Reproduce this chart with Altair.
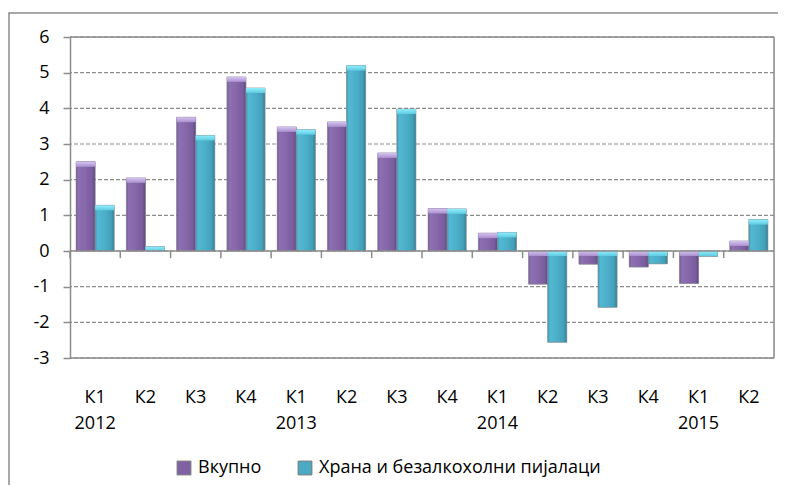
import altair as alt
import pandas as pd

quarters = ["К1", "К2", "К3", "К4", "К1", "К2", "К3", "К4", "К1", "К2", "К3", "К4", "К1", "К2"]
years = ["2012"] * 4 + ["2013"] * 4 + ["2014"] * 4 + ["2015"] * 2
series_names = ["Вкупно", "Храна и безалкохолни пијалаци"]
vkupno = [2.5, 2.05, 3.75, 4.88, 3.48, 3.62, 2.75, 1.19, 0.5, -0.93, -0.37, -0.45, -0.91, 0.28]
hrana = [1.28, 0.12, 3.24, 4.57, 3.4, 5.2, 3.98, 1.18, 0.52, -2.56, -1.58, -0.36, -0.15, 0.88]
y_ticks = [-3, -2, -1, 0, 1, 2, 3, 4, 5, 6]
y_min, y_max = -3, 6

cats = [f"{q} {y}" for q, y in zip(quarters, years)]
rows = []
for i, c in enumerate(cats):
    for s, vals in zip(series_names, [vkupno, hrana]):
        v = vals[i]
        top = max(v, 0.0)
        cap = min(0.14, abs(v))
        rows.append({"cat": c, "series": s, "value": v, "zero": 0.0, "top": top, "capbot": top - cap})
df = pd.DataFrame(rows)
ticks_df = pd.DataFrame({"cat": cats, "y0": [0.0] * len(cats), "y1": [-0.2] * len(cats)})
grid_df = pd.DataFrame({"v": y_ticks})
solid_df = pd.DataFrame({"v": [y_min, 0, y_max]})
side_df = pd.DataFrame({"ytop": [y_max], "ybot": [y_min]})
frame_df = pd.DataFrame({"k": [0]})

W, H = 704, 321
GRAY = "#8c8c8c"
PURPLE = "#7f62a1"
TEAL = "#4aaac4"

grad_p = {"gradient": "linear", "x1": 0, "y1": 0, "x2": 1, "y2": 0,
          "stops": [{"offset": 0, "color": "#735a96"}, {"offset": 0.12, "color": "#8d70b2"},
                    {"offset": 0.5, "color": "#8667a9"}, {"offset": 0.85, "color": "#785c9e"},
                    {"offset": 1, "color": "#5c467b"}]}
grad_t = {"gradient": "linear", "x1": 0, "y1": 0, "x2": 1, "y2": 0,
          "stops": [{"offset": 0, "color": "#3f98b0"}, {"offset": 0.12, "color": "#53b8d3"},
                    {"offset": 0.5, "color": "#4cafc9"}, {"offset": 0.85, "color": "#429fb8"},
                    {"offset": 1, "color": "#307e93"}]}
cap_p = {"gradient": "linear", "x1": 0, "y1": 0, "x2": 0, "y2": 1,
         "stops": [{"offset": 0, "color": "#d6c2f3"}, {"offset": 1, "color": "#a98fcc"}]}
cap_t = {"gradient": "linear", "x1": 0, "y1": 0, "x2": 0, "y2": 1,
         "stops": [{"offset": 0, "color": "#90effc"}, {"offset": 1, "color": "#5fcae0"}]}

is_p = alt.datum.series == "Вкупно"

x_axis = alt.Axis(title=None, domain=False, ticks=False, grid=False,
                  labelAngle=0, labelFontSize=18, labelPadding=30,
                  labelBaseline="top", labelLineHeight=26, labelColor="black",
                  labelFont="Open Sans", labelOverlap=False,
                  labelExpr="split(datum.value, ' ')[0] == 'К1' ? split(datum.value, ' ') : split(datum.value, ' ')[0]")
x_scale = alt.Scale(paddingInner=0, paddingOuter=0)
y_scale = alt.Scale(domain=[y_min, y_max], nice=False, zero=False)
y_axis = alt.Axis(title=None, values=y_ticks, grid=False,
                  domainColor=GRAY, domainWidth=1.5, tickColor=GRAY,
                  tickSize=7, tickWidth=1.5, labelFontSize=18, labelPadding=14,
                  labelColor="black", labelFont="Open Sans", labelOverlap=False,
                  labelExpr="'' + datum.value")


def X(**kw):
    return alt.X("cat:N", sort=cats, scale=x_scale, axis=x_axis, **kw)


def Y(field):
    return alt.Y(field, scale=y_scale, axis=y_axis)


xoff = alt.XOffset("series:N", sort=series_names, scale=alt.Scale(paddingOuter=0.32, paddingInner=0))

grid = alt.Chart(grid_df).mark_rule(color=GRAY, strokeWidth=1.2, strokeDash=[4, 2]).encode(
    y=Y("v:Q"))

base = alt.Chart(df)

bars_flat = base.mark_bar().encode(
    x=X(), xOffset=xoff,
    y=Y("value:Q"), y2="zero:Q",
    color=alt.Color("series:N", sort=series_names,
                    scale=alt.Scale(domain=series_names, range=[PURPLE, TEAL]),
                    legend=alt.Legend(title=None, orient="none", legendX=105, legendY=422,
                                      direction="horizontal", symbolType="square", symbolSize=190,
                                      symbolStrokeColor="#777777", symbolStrokeWidth=1,
                                      labelFontSize=18, labelFont="Open Sans", labelColor="black",
                                      labelLimit=0, columnPadding=34, labelOffset=5)),
)

bars_grad = base.mark_bar(stroke="#8a8a96", strokeWidth=1, strokeOpacity=0.7).encode(
    x=X(), xOffset=xoff,
    y=Y("value:Q"), y2="zero:Q",
    fill=alt.condition(is_p, alt.value(grad_p), alt.value(grad_t)),
)

caps = base.mark_bar().encode(
    x=X(), xOffset=xoff,
    y=Y("top:Q"), y2="capbot:Q",
    fill=alt.condition(is_p, alt.value(cap_p), alt.value(cap_t)),
)

solid_lines = alt.Chart(solid_df).mark_rule(color=GRAY, strokeWidth=1.5).encode(y=Y("v:Q"))
right_line = alt.Chart(side_df).mark_rule(color=GRAY, strokeWidth=1.5).encode(
    x=alt.value(W), y=Y("ytop:Q"), y2="ybot:Q")

zero_ticks = alt.Chart(ticks_df).mark_rule(color=GRAY, strokeWidth=1.5).encode(
    x=X(bandPosition=0), y=Y("y0:Q"), y2="y1:Q")

frame = alt.Chart(frame_df).mark_rect(fill=None, stroke=GRAY, strokeWidth=1.5).encode(
    x=alt.value(-61), x2=alt.value(W + 40), y=alt.value(-24), y2=alt.value(H + 200),
)

chart = alt.layer(grid, frame, bars_flat, bars_grad, caps, solid_lines, zero_ticks,
                  right_line).properties(
    width=W, height=H,
    autosize=alt.AutoSizeParams(type="none"),
    padding={"left": 62, "top": 29, "right": 4, "bottom": 127},
).configure_view(stroke=None).configure(background="white")

chart.save("out.html", embed_options={"renderer": "svg", "actions": False})
